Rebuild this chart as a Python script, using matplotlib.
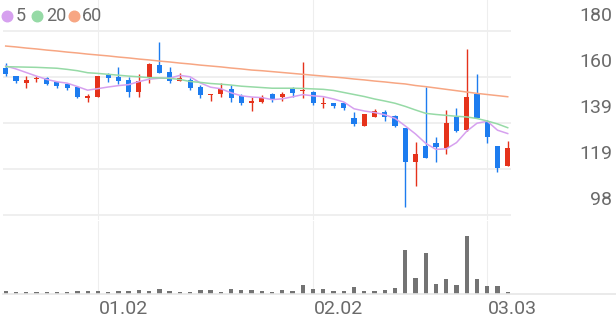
import numpy as np
import pandas as pd
import matplotlib
matplotlib.use("Agg")
import matplotlib.pyplot as plt
from matplotlib.lines import Line2D

# daily candles (price), red = up, blue = down
opens = [163.5, 159.9, 156.8, 158.6, 159.1, 157.3, 156.4, 155.0, 150.1, 150.6,
         160.4, 159.5, 158.2, 152.8, 159.1, 164.9, 161.7, 157.7, 158.2, 155.0,
         151.5, 151.9, 154.2, 151.0, 147.9, 148.4, 151.9, 150.6, 154.6, 153.3,
         152.8, 147.5, 147.9, 147.9, 141.2, 137.7, 141.7, 143.9, 142.1, 136.8,
         121.6, 128.8, 130.1, 127.9, 141.7, 135.9, 151.9, 139.4, 128.8, 119.8]
highs = [165.7, 159.9, 159.9, 159.9, 159.5, 157.3, 156.8, 155.5, 151.9, 159.9,
         161.3, 164.0, 159.5, 160.8, 165.7, 175.1, 164.0, 161.3, 159.1, 155.9,
         151.9, 156.8, 155.9, 151.9, 150.6, 151.5, 152.4, 152.8, 155.0, 166.2,
         153.3, 150.6, 147.9, 148.4, 143.9, 143.0, 145.2, 144.8, 142.6, 136.8,
         130.5, 155.0, 132.8, 144.8, 145.7, 172.0, 160.8, 140.3, 128.8, 130.8]
lows = [159.9, 156.8, 154.6, 157.3, 155.9, 154.6, 153.7, 150.1, 148.4, 150.6,
        157.3, 156.4, 150.6, 150.6, 156.8, 161.3, 156.8, 157.7, 153.7, 150.1,
        148.8, 150.6, 148.4, 147.0, 144.4, 147.9, 148.4, 148.8, 150.6, 150.1,
        147.0, 145.7, 145.7, 144.8, 137.7, 137.7, 141.7, 139.9, 137.2, 101.6,
        110.9, 123.4, 121.6, 125.2, 135.0, 135.4, 141.2, 130.1, 117.2, 119.8]
closes = [160.8, 157.7, 158.2, 159.1, 156.4, 155.5, 154.6, 150.6, 151.0, 159.9,
          159.1, 157.7, 152.8, 157.7, 165.3, 161.3, 157.7, 159.1, 154.6, 151.5,
          151.9, 154.2, 150.1, 147.9, 148.8, 150.6, 149.7, 151.9, 152.4, 153.7,
          147.9, 147.9, 146.6, 145.7, 138.6, 143.0, 144.4, 141.7, 137.7, 121.6,
          125.2, 123.4, 128.3, 139.0, 135.4, 150.6, 141.2, 132.8, 119.0, 127.9]
volumes = [27, 17, 13, 13, 13, 10, 13, 27, 23, 27,
           13, 27, 27, 33, 27, 47, 20, 13, 13, 30,
           30, 17, 40, 33, 38, 23, 10, 37, 27, 80,
           40, 43, 27, 20, 63, 20, 20, 30, 50, 430,
           150, 406, 96, 143, 83, 576, 143, 76, 76, 13]

# moving averages (first 4 points of MA5 need older closes)
ma5_head = [164.4, 163.1, 161.5, 159.9]
ma20 = [164.1, 164.0, 163.9, 163.8, 163.6, 163.4, 162.9, 162.3, 161.4, 161.1,
        160.7, 160.3, 159.9, 159.6, 159.2, 159.1, 158.9, 158.4, 157.5, 157.1,
        156.6, 156.3, 155.9, 155.4, 155.1, 154.8, 154.5, 154.5, 154.5, 154.4,
        154.2, 154.0, 153.5, 152.6, 151.7, 150.8, 149.7, 148.8, 147.8, 146.4,
        144.8, 143.3, 142.8, 142.4, 142.0, 141.7, 141.0, 139.9, 138.6, 136.9]
ma60 = [173.3, 172.9, 172.4, 172.0, 171.5, 171.1, 170.6, 170.2, 169.7, 169.3,
        168.9, 168.4, 168.0, 167.5, 167.1, 166.6, 166.2, 165.7, 165.3, 164.8,
        164.4, 164.0, 163.5, 163.1, 162.6, 162.3, 161.9, 161.5, 161.1, 160.7,
        160.3, 159.9, 159.5, 159.1, 158.6, 158.2, 157.7, 157.3, 156.8, 156.4,
        155.7, 155.2, 154.6, 154.0, 153.4, 152.8, 152.2, 151.7, 151.2, 150.7]

x_ticks = [9, 30, 47]
x_labels = ["01.02", "02.02", "03.03"]
y_ticks = [180, 159.5, 139, 118.5, 98]
y_labels = ["180", "160", "139", "119", "98"]
ma_names = ["5", "20", "60"]
ma_colors = ["#d6a0ef", "#96daa6", "#f7a683"]

UP = "#e5321b"
DOWN = "#1d7cef"
GRID = "#efefef"
TXT = "#6a6a6a"

plt.rcParams["font.family"] = ["Roboto", "DejaVu Sans"]

o = np.array(opens)
h = np.array(highs)
l = np.array(lows)
c = np.array(closes)
x = np.arange(len(c))
ma5 = pd.Series(c).rolling(5).mean().to_numpy()
ma5[:4] = ma5_head

W, H = 616, 321
fig = plt.figure(figsize=(W / 100, H / 100), dpi=100)
ax = fig.add_axes([3 / W, 1 - 220 / H, 508 / W, 220 / H])
axv = fig.add_axes([3 / W, 27.5 / H, 508 / W, 72.5 / H])

xl = (-0.264, 49.32)
for a in (ax, axv):
    a.set_xlim(*xl)
    for s in a.spines.values():
        s.set_visible(False)
    a.set_xticks([])
    a.set_yticks([])
    a.patch.set_alpha(0)
    for t in x_ticks:
        a.axvline(t, color="#eeeeee", lw=0.8, zorder=0)

ax.set_ylim(95.78, 193.81)
for v in y_ticks:
    ax.axhline(v, color=GRID, lw=1.4, zorder=0)

# candles
up = c >= o
col = np.where(up, UP, DOWN)
ax.vlines(x, l, h, colors=col, lw=1.0, zorder=2)
body = np.maximum(np.abs(c - o), 0.5)
ax.bar(x, body, bottom=np.minimum(o, c), width=0.5, color=col, lw=0, zorder=3)

for m, colr in zip([ma5, ma20, ma60], ma_colors):
    ax.plot(x, m, color=colr, lw=1.1, zorder=4)

for v, lab in zip(y_ticks, y_labels):
    ax.annotate(lab, xy=(1, v), xycoords=("axes fraction", "data"),
                xytext=(101, 15), textcoords="offset pixels",
                ha="right", va="center", fontsize=14, color=TXT)

# volume
axv.set_ylim(0, 722)
axv.bar(x, volumes, width=0.42, color="#737373", lw=0, zorder=2)
for t, lab in zip(x_ticks, x_labels):
    axv.annotate(lab, xy=(t, 0), xycoords=("data", "axes fraction"),
                 xytext=(1, -16), textcoords="offset pixels",
                 ha="left", va="center", fontsize=14, color=TXT)
fig.add_artist(Line2D([3 / W, 1], [27.5 / H, 27.5 / H], color="#e6e6e6", lw=1.2,
                      transform=fig.transFigure))

# legend
lx = [6.7, 37, 74]
tx = [16, 46, 82]
for cx, txp, name, colr in zip(lx, tx, ma_names, ma_colors):
    fig.add_artist(Line2D([cx / W], [1 - 16 / H], marker="o", ms=7.6, color=colr,
                          lw=0, transform=fig.transFigure))
    fig.text(txp / W, 1 - 16 / H, name, ha="left", va="center", fontsize=13,
             color=TXT)

fig.savefig("out.png", dpi=100)
